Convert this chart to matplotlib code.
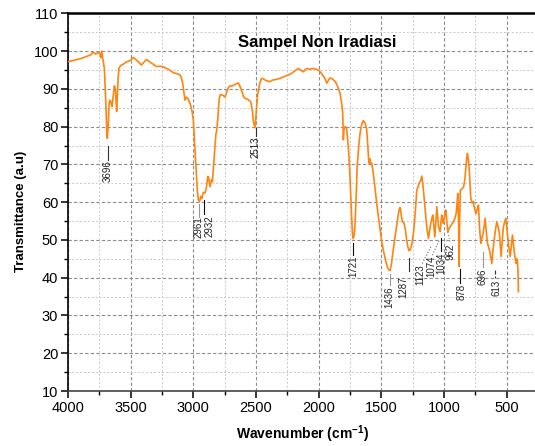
import matplotlib
matplotlib.use('Agg')
import matplotlib.pyplot as plt
from matplotlib.ticker import MultipleLocator

plt.rcParams['font.family'] = ['Liberation Sans', 'DejaVu Sans']

# spectrum (wavenumber cm-1, transmittance)
wavenumber = [4000, 3950, 3900, 3850, 3820, 3800, 3780, 3760, 3745, 3738, 3731, 3720, 3710, 3700,
              3690, 3686, 3680, 3672, 3667, 3658, 3649, 3640, 3630, 3622, 3615, 3612, 3606, 3600,
              3593, 3580, 3560, 3540, 3520, 3500, 3479, 3460, 3440, 3414, 3395, 3374, 3350, 3320,
              3294, 3260, 3239, 3200, 3160, 3130, 3106, 3095, 3085, 3075, 3067, 3057, 3045, 3030,
              3019, 3010, 3000, 2990, 2978, 2968, 2960, 2950, 2940, 2933, 2920, 2907, 2895, 2885,
              2880, 2867, 2855, 2848, 2840, 2832, 2820, 2813, 2805, 2795, 2785, 2773, 2760, 2747,
              2735, 2720, 2705, 2689, 2665, 2641, 2630, 2616, 2600, 2588, 2565, 2542, 2530, 2521,
              2508, 2500, 2487, 2470, 2455, 2440, 2420, 2400, 2388, 2370, 2340, 2308, 2280, 2250,
              2220, 2202, 2180, 2162, 2140, 2122, 2110, 2095, 2070, 2042, 2020, 2002, 1985, 1962,
              1948, 1935, 1920, 1909, 1890, 1869, 1850, 1829, 1816, 1808, 1803, 1797, 1789, 1780,
              1776, 1766, 1758, 1750, 1737, 1730, 1725, 1718, 1711, 1700, 1693, 1680, 1670, 1655,
              1644, 1630, 1617, 1608, 1602, 1598, 1590, 1584, 1577, 1568, 1558, 1548, 1537, 1522,
              1510, 1497, 1484, 1470, 1457, 1443, 1430, 1420, 1409, 1395, 1383, 1372, 1364, 1356,
              1350, 1340, 1332, 1320, 1310, 1300, 1289, 1280, 1271, 1258, 1244, 1230, 1217, 1208,
              1199, 1188, 1177, 1168, 1159, 1150, 1143, 1134, 1124, 1115, 1105, 1097, 1089, 1081,
              1073, 1065, 1057, 1050, 1044, 1031, 1025, 1018, 1011, 1005, 995, 986, 978, 970,
              960, 951, 938, 925, 912, 903, 895, 890, 884, 880, 875, 870, 866, 856,
              845, 838, 832, 825, 818, 813, 806, 800, 793, 786, 775, 766, 760, 750,
              744, 735, 725, 716, 706, 698, 690, 680, 672, 662, 653, 645, 637, 627,
              618, 610, 600, 590, 579, 568, 558, 550, 544, 535, 526, 516, 507, 497,
              486, 478, 472, 462, 454, 446, 438, 430, 425, 418, 414, 410, 406]
transmittance = [97.2, 97.6, 98.0, 98.6, 99.0, 99.8, 99.2, 99.6, 99.4, 98.2, 100.0, 97.5, 95.5, 88,
                 78, 76.9, 80, 86, 87, 86.5, 85.3, 88, 90.8, 90, 86, 84, 88, 93,
                 95.5, 96.2, 96.5, 97, 97.3, 97.6, 98.3, 97.8, 97.2, 96.3, 97, 97.8, 97.2, 96.5,
                 95.9, 96, 95.8, 95.2, 94.3, 94, 93.7, 92.8, 91.5, 89, 87, 87.8, 87.5, 86.5,
                 85.3, 84, 81.8, 76, 69.4, 63, 60.6, 60.2, 61.5, 61, 62.6, 62.4, 64, 66.8,
                 66.7, 64.1, 66, 65.4, 69, 72.9, 78, 79.1, 82, 87, 88.5, 88.4, 88.2, 87.8,
                 89, 90.4, 90.8, 90.8, 91.2, 91.6, 90.8, 89.7, 88, 87.5, 87.2, 86.6, 84.5, 81.3,
                 79.7, 83, 88.4, 91.5, 92.8, 92.6, 92.2, 92.0, 91.9, 92.3, 92.5, 92.8, 93.2, 93.6,
                 94, 94.5, 95, 95.4, 94.9, 94.5, 95, 95.4, 95.2, 95.4, 95.2, 95, 94.4, 93.4,
                 92.6, 91.5, 92.4, 92.9, 92.6, 92, 90.8, 88.8, 86, 83.5, 76.5, 79.5, 80, 79.8,
                 79.2, 75.6, 72, 66.7, 56.1, 51.5, 50.4, 51, 53.5, 62, 69.4, 75, 78.2, 80.8,
                 81.6, 81, 79.3, 75, 71.5, 70.3, 71.5, 70, 70.3, 68.5, 65.9, 63, 59.7, 55.8,
                 52.6, 49.5, 47.3, 45.2, 43.4, 42.2, 41.9, 43.5, 46.4, 49.8, 52.6, 55, 57, 58.2,
                 58.6, 56.5, 54.8, 54.5, 53.1, 50.5, 48.2, 47.2, 47.3, 48.6, 51.7, 57, 63.2, 64,
                 65, 65.6, 66.9, 64.5, 61.4, 58, 55.3, 52.5, 50.4, 52.5, 54.4, 55.7, 56.6, 53.5,
                 50.8, 55, 58.8, 56, 53.5, 52.2, 54.5, 56.6, 55.5, 54.4, 56.5, 57.9, 55, 52.2,
                 53, 53.5, 54.2, 54.8, 55.8, 57, 60, 62.3, 55, 43, 55, 63.2, 63.2, 63.6,
                 63.9, 65, 66.6, 69.5, 71.8, 72.9, 71.5, 69.4, 65, 61, 59.8, 60.2, 58.8, 57.5,
                 57, 58.2, 59.2, 53, 49.1, 50.5, 51.3, 53.5, 55.7, 52, 49.1, 48.2, 47.3, 45.5,
                 43.8, 47, 50, 52.5, 54.8, 53.5, 51.7, 48, 45.6, 50, 53.5, 54.8, 55.7, 52.5,
                 49.1, 47, 45.6, 48.5, 51.3, 49, 46.4, 44.8, 43.8, 45, 44.6, 42, 36.3]

# peak labels
peak_labels = ['3696', '2961', '2932', '2513', '1721', '1436', '1287',
               '1123', '1074', '1034', '962', '878', '696', '613']

# label placement: leader line (x0, y0) -> (x1, y1), text x, text top y, line colour, line style
peak_marks = [
    (3681, 74.9, 3681, 71.2, 3681, 71.2, '#333333', '-'),
    (2955, 59.6, 2955, 56.2, 2962, 56.2, '#999999', '-'),
    (2912, 60.5, 2912, 56.9, 2870, 56.4, '#111111', '-'),
    (2502, 79.6, 2502, 77.4, 2502, 77.4, '#333333', '-'),
    (1723, 49.3, 1723, 46.0, 1723, 46.0, '#111111', '-'),
    (1431, 41.0, 1431, 38.0, 1440, 37.6, '#999999', '-'),
    (1279, 45.2, 1279, 41.8, 1322, 40.2, '#333333', '-'),
    (1105, 48.2, 1175, 43.6, 1190, 43.6, '#666666', ':'),
    (1040, 49.8, 1095, 45.8, 1098, 45.8, '#666666', ':'),
    (1026, 50.4, 1026, 47.2, 1024, 46.8, '#111111', '-'),
    (970, 52.1, 951, 49.4, 951, 49.0, '#888888', ':'),
    (870, 42.2, 870, 38.6, 862, 38.4, '#111111', '-'),
    (691, 46.8, 691, 42.8, 691, 42.5, '#999999', '-'),
    (592, 42.0, 592, 39.8, 585, 39.4, '#333333', '--'),
]

fig = plt.figure(figsize=(5.35, 4.46), dpi=100)
ax = fig.add_axes([0.1271, 0.1233, 0.8785, 0.8468])

ax.plot(wavenumber, transmittance, color='#FF8410', lw=1.2, zorder=3)

for (x0, y0, x1, y1, tx, ty, c, ls), lab in zip(peak_marks, peak_labels):
    ax.plot([x0, x1], [y0, y1], color=c, lw=0.8, ls=ls, zorder=4)
    ax.text(tx, ty, lab, rotation=90, ha='center', va='top', fontsize=7, color='#222222', zorder=5)

ax.text(2010, 102.4, 'Sampel Non Iradiasi', ha='center', va='center', fontsize=12, fontweight='bold')

ax.set_xlim(4000, 250)
ax.set_ylim(10, 110)
ax.xaxis.set_major_locator(MultipleLocator(500))
ax.xaxis.set_minor_locator(MultipleLocator(250))
ax.yaxis.set_major_locator(MultipleLocator(10))
ax.yaxis.set_minor_locator(MultipleLocator(5))

ax.grid(which='major', color='#8c8c8c', ls=(0, (3, 2)), lw=0.8)
ax.grid(which='minor', color='#c8c8c8', ls=(0, (2, 2)), lw=0.7)
ax.set_axisbelow(True)

ax.spines['right'].set_visible(False)
ax.spines['top'].set_linewidth(1.8)
ax.spines['left'].set_linewidth(1.2)
ax.spines['bottom'].set_linewidth(1.2)
ax.spines['bottom'].set_color('#444444')

ax.tick_params(which='major', direction='out', length=5, width=1.1, labelsize=10.5, pad=2)
ax.tick_params(which='minor', direction='out', length=3, width=1.0)
ax.tick_params(top=False, right=False, which='both')

ax.set_xlabel('Wavenumber (cm$^{\\mathregular{-1}}$)', fontsize=10, fontweight='bold', labelpad=6)
ax.set_ylabel('Transmittance (a.u)', fontsize=9.5, fontweight='bold')
ax.yaxis.set_label_coords(-0.088, 0.476)

fig.savefig('out.png', dpi=100)
